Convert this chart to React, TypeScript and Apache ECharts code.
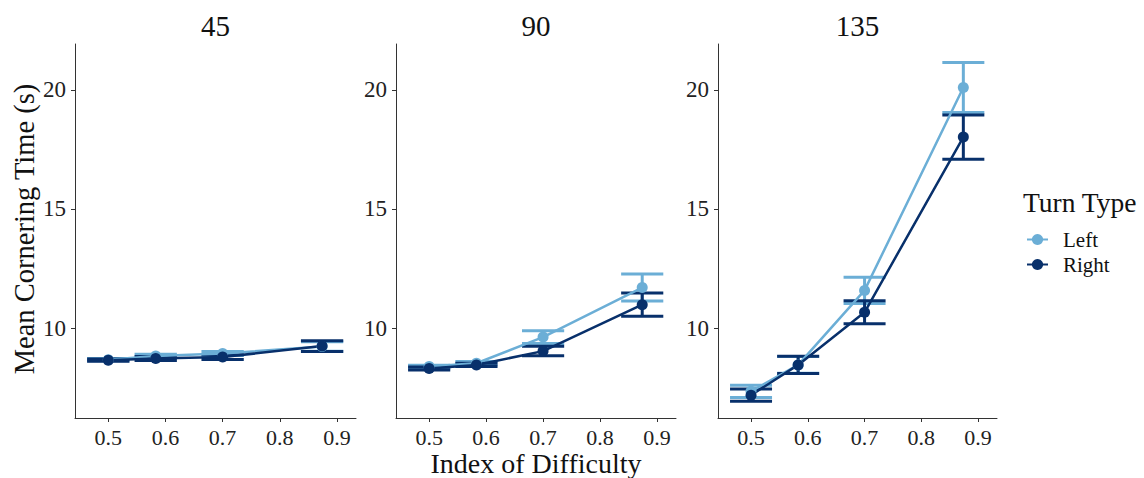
import React, { useEffect, useRef } from "react";
import * as echarts from "echarts";

const panels = ["45", "90", "135"];
const xTicks = [0.5, 0.6, 0.7, 0.8, 0.9];
const yTicks = [10, 15, 20];
const difficulty = [0.5, 0.583, 0.7, 0.874];

const leftMean45 = [8.67, 8.82, 8.93, 9.22];
const leftErr45 = [0.05, 0.08, 0.08, 0.2];
const rightMean45 = [8.65, 8.72, 8.78, 9.24];
const rightErr45 = [0.05, 0.08, 0.1, 0.23];

const leftMean90 = [8.38, 8.52, 9.62, 11.7];
const leftErr90 = [0.06, 0.07, 0.27, 0.57];
const rightMean90 = [8.3, 8.45, 9.03, 10.98];
const rightErr90 = [0.06, 0.07, 0.2, 0.49];

const leftMean135 = [7.34, 8.45, 11.58, 20.1];
const leftErr135 = [0.26, 0.35, 0.55, 1.05];
const rightMean135 = [7.18, 8.45, 10.66, 18.02];
const rightErr135 = [0.26, 0.36, 0.48, 0.93];

const leftMeans = [leftMean45, leftMean90, leftMean135];
const leftErrs = [leftErr45, leftErr90, leftErr135];
const rightMeans = [rightMean45, rightMean90, rightMean135];
const rightErrs = [rightErr45, rightErr90, rightErr135];

const LEFT = "#6BAED6";
const RIGHT = "#08306B";
const FONT = "Liberation Serif";
const CAP = 0.037;

export default function App() {
  const ref = useRef<HTMLDivElement>(null);
  useEffect(() => {
    if (!ref.current) return;
    const chart = echarts.init(ref.current, undefined, { renderer: "svg" });
    const gridLefts = [75, 396, 718];
    const gridWidths = [281, 280, 279];
    const grids = gridLefts.map((l, i) => ({ left: l, width: gridWidths[i], top: 44, height: 374 }));
    const axisCommon = {
      axisLine: { show: true, lineStyle: { color: "#333", width: 1 } },
      axisTick: { show: true, length: 4, lineStyle: { color: "#333" } },
      splitLine: { show: false },
    };
    const xAxes = panels.map((_, i) => ({
      type: "value",
      gridIndex: i,
      min: 0.4418,
      max: 0.9333,
      ...axisCommon,
      axisTick: { ...axisCommon.axisTick, customValues: xTicks },
      axisLabel: {
        customValues: xTicks,
        fontFamily: FONT,
        fontSize: 22,
        lineHeight: 22,
        color: "#222",
        margin: 8,
        formatter: (v: number) => v.toFixed(1),
      },
    }));
    const yAxes = panels.map((_, i) => ({
      type: "value",
      gridIndex: i,
      min: 6.22,
      max: 21.93,
      ...axisCommon,
      axisTick: { ...axisCommon.axisTick, customValues: yTicks },
      axisLabel: {
        customValues: yTicks,
        fontFamily: FONT,
        fontSize: 23,
        color: "#222",
        margin: 9,
      },
    }));

    const errSeries = (name: string, means: number[], errs: number[], color: string, idx: number) => ({
      type: "custom",
      name,
      xAxisIndex: idx,
      yAxisIndex: idx,
      z: 2,
      data: difficulty.map((x, k) => [x, means[k], means[k] - errs[k], means[k] + errs[k]]),
      renderItem: (params: any, api: any) => {
        const x = api.value(0);
        const lo = api.value(2);
        const hi = api.value(3);
        const top = api.coord([x, hi]);
        const bot = api.coord([x, lo]);
        const tl = api.coord([x - CAP, hi]);
        const tr = api.coord([x + CAP, hi]);
        const bl = api.coord([x - CAP, lo]);
        const br = api.coord([x + CAP, lo]);
        const style = { stroke: color, lineWidth: 3, fill: "none" };
        return {
          type: "group",
          children: [
            { type: "line", shape: { x1: top[0], y1: top[1], x2: bot[0], y2: bot[1] }, style },
            { type: "line", shape: { x1: tl[0], y1: tl[1], x2: tr[0], y2: tr[1] }, style },
            { type: "line", shape: { x1: bl[0], y1: bl[1], x2: br[0], y2: br[1] }, style },
          ],
        };
      },
    });
    const lineSeries = (name: string, means: number[], color: string, idx: number) => ({
      type: "line",
      name,
      xAxisIndex: idx,
      yAxisIndex: idx,
      z: 3,
      data: difficulty.map((x, k) => [x, means[k]]),
      symbol: "circle",
      symbolSize: 11,
      showSymbol: true,
      lineStyle: { color, width: 2.5 },
      itemStyle: { color },
    });

    const series: any[] = [];
    panels.forEach((_, i) => {
      series.push(errSeries("LeftErr", leftMeans[i], leftErrs[i], LEFT, i));
      series.push(errSeries("RightErr", rightMeans[i], rightErrs[i], RIGHT, i));
    });
    panels.forEach((_, i) => {
      series.push(lineSeries("Left", leftMeans[i], LEFT, i));
      series.push(lineSeries("Right", rightMeans[i], RIGHT, i));
    });

    const graphics: any[] = panels.map((p, i) => ({
      type: "text",
      x: gridLefts[i] + gridWidths[i] / 2,
      y: 26,
      style: { text: p, font: `29px "${FONT}"`, fill: "#111", textAlign: "center", textVerticalAlign: "middle" },
    }));
    graphics.push({
      type: "text",
      x: 24,
      y: 229,
      rotation: Math.PI / 2,
      style: {
        text: "Mean Cornering Time (s)",
        font: `28.5px "${FONT}"`,
        fill: "#111",
        textAlign: "center",
        textVerticalAlign: "middle",
      },
    });
    graphics.push({
      type: "text",
      x: 536,
      y: 463.5,
      style: {
        text: "Index of Difficulty",
        font: `28px "${FONT}"`,
        fill: "#111",
        textAlign: "center",
        textVerticalAlign: "middle",
      },
    });
    graphics.push({
      type: "text",
      x: 1023,
      y: 202,
      style: { text: "Turn Type", font: `27.5px "${FONT}"`, fill: "#111", textAlign: "left", textVerticalAlign: "middle" },
    });

    chart.setOption({
      animation: false,
      backgroundColor: "#fff",
      grid: grids,
      xAxis: xAxes,
      yAxis: yAxes,
      series,
      legend: {
        data: ["Left", "Right"],
        orient: "vertical",
        left: 1021,
        top: 224,
        itemWidth: 21,
        itemHeight: 14,
        itemGap: 4,
        selectedMode: false,
        textStyle: { fontFamily: FONT, fontSize: 21, lineHeight: 21, color: "#111", padding: [0, 0, 0, 10] },
      },
      graphic: graphics,
    });
    return () => chart.dispose();
  }, []);
  return <div ref={ref} style={{ position: "fixed", left: 0, top: 0, width: 1144, height: 478 }} />;
}
